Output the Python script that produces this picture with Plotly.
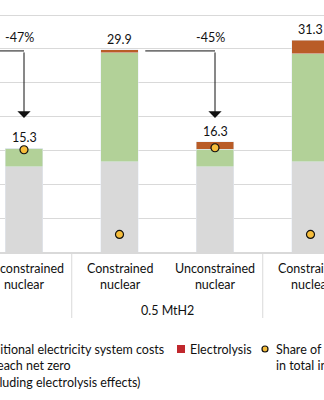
import plotly.graph_objects as go

# Scenario bars (two nuclear assumptions per hydrogen level)
categories = ["Unconstrained<br>nuclear", "Constrained<br>nuclear",
              "Unconstrained<br>nuclear", "Constrained<br>nuclear"]
base_costs = [12.6, 13.3, 12.6, 13.3]
additional_costs = [2.7, 16.1, 2.6, 16.0]
electrolysis_costs = [0.0, 0.5, 1.1, 2.0]
totals = [15.3, 29.9, 16.3, 31.3]
nuclear_share = [15.1, 2.6, 15.4, 2.6]

group_label = "0.5 MtH2"
change_labels = ["-47%", "-45%"]
change_targets = [0, 2]          # bars receiving the reduction arrows
change_from, change_to = 29.7, 19.8

FONT = "Lato"
GREY, GREEN, BROWN, RED, YELLOW = "#d9d9d9", "#b2d198", "#b95c27", "#c0282d", "#f6bd3b"

xs = list(range(1, len(categories) + 1))

fig = go.Figure()
fig.add_bar(x=xs, y=base_costs, marker_color=GREY, width=0.39, name="Base")
fig.add_bar(x=xs, y=additional_costs, marker_color=GREEN, width=0.39,
            name="Additional electricity system costs")
fig.add_bar(x=xs, y=electrolysis_costs, marker_color=BROWN, width=0.39, name="Electrolysis")
fig.add_scatter(x=xs, y=nuclear_share, mode="markers", yaxis="y2", name="Share",
                marker=dict(size=8, color=YELLOW, line=dict(color="#111111", width=1.2)),
                cliponaxis=False)

txt = dict(size=12.5, color="#111111", family=FONT)

# value labels on top of each stack
for x, t in zip(xs, totals):
    fig.add_annotation(x=x, y=t, text=f"{t:.1f}", showarrow=False, yanchor="bottom",
                       yshift=1, font=txt)

# reduction arrows
starts = [0.6, 2.27]
for lab, idx, x0 in zip(change_labels, change_targets, starts):
    xv = xs[idx]
    fig.add_shape(type="line", x0=x0, x1=xv, y0=change_from, y1=change_from,
                  line=dict(color="#111111", width=1))
    fig.add_annotation(x=xv, y=change_to, ax=xv, ay=change_from, axref="x", ayref="y",
                       text="", showarrow=True, arrowhead=1, arrowsize=2.2,
                       arrowwidth=1, arrowcolor="#111111")
    fig.add_annotation(x=xv - 0.045, y=change_from, text=lab, showarrow=False,
                       yanchor="bottom", yshift=4, font=txt)

H, PB, PT = 400, 252, 10
ph = PB - PT


def py(p):
    return (PB - p) / ph


def px(p):
    return p / 324

# category labels under each bar
for x, c in zip(xs, categories):
    fig.add_annotation(x=x, xref="x", yref="paper", y=py(259), yanchor="top",
                       text=c, showarrow=False, font=txt)

# group dividers and group label
for xd in (1.5, 3.5):
    fig.add_shape(type="line", xref="x", yref="paper", x0=xd, x1=xd, y0=0, y1=py(318),
                  line=dict(color=GREY, width=1))
fig.add_annotation(x=2.5, xref="x", yref="paper", y=py(310), yanchor="middle",
                   text=group_label, showarrow=False, font=txt)

# legend
fig.add_annotation(xref="paper", yref="paper", x=px(-24), y=py(340), xanchor="left",
                   yanchor="top", align="left", showarrow=False, font=txt,
                   text="Additional electricity system costs<br>to reach net zero<br>(excluding electrolysis effects)")
fig.add_shape(type="rect", xref="paper", yref="paper", x0=px(177), x1=px(185),
              y0=py(345), y1=py(353), fillcolor=RED, line=dict(width=0))
fig.add_annotation(xref="paper", yref="paper", x=px(188), y=py(349), xanchor="left",
                   yanchor="middle", showarrow=False, font=txt, text="Electrolysis")
fig.add_shape(type="circle", xref="paper", yref="paper", x0=px(262), x1=px(268),
              y0=py(346), y1=py(352), fillcolor=YELLOW, line=dict(color="#111111", width=1.2))
fig.add_annotation(xref="paper", yref="paper", x=px(274), y=py(340), xanchor="left",
                   yanchor="top", align="left", showarrow=False, font=txt,
                   text="Share of nuclear<br>in total installed capacity")

ymax = ph / 6.77
fig.update_layout(
    width=324, height=H, barmode="stack", showlegend=False,
    margin=dict(l=0, r=0, t=PT, b=H - PB, pad=0),
    plot_bgcolor="white", paper_bgcolor="white",
    font=dict(family=FONT, size=12.5, color="#111111"),
    xaxis=dict(range=[1 - 24 / 95.5, 1 - 24 / 95.5 + 324 / 95.5], showticklabels=False,
               showgrid=False, zeroline=False, ticks="",
               showline=True, linecolor=GREY, linewidth=1.5, automargin=False),
    yaxis=dict(range=[0, ymax], dtick=5, showgrid=True, gridcolor=GREY, gridwidth=1.3,
               showticklabels=False, zeroline=False, automargin=False),
    yaxis2=dict(range=[0, ymax], overlaying="y", side="right", showgrid=False,
                showticklabels=False, zeroline=False, automargin=False),
)

fig.write_html("out.html")
